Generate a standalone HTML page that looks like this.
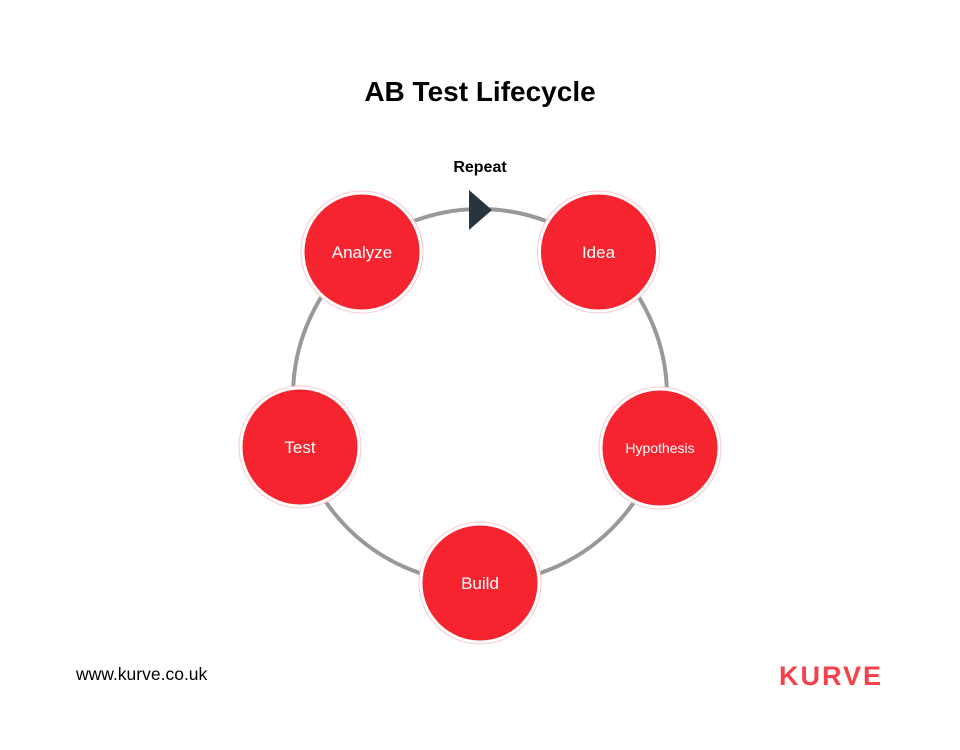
<!DOCTYPE html>
<html><head><style>
body{margin:0;background:#fff;}
svg{display:block;font-family:"Liberation Sans",sans-serif;}
</style></head><body>
<svg width="960" height="750" viewBox="0 0 960 750">
<rect width="960" height="750" fill="#fff"/>
<text x="480" y="101" text-anchor="middle" font-size="28" font-weight="bold" fill="#000">AB Test Lifecycle</text>
<text x="480" y="172" text-anchor="middle" font-size="16" font-weight="bold" fill="#000">Repeat</text>
<circle cx="480" cy="396" r="187" fill="none" stroke="#999" stroke-width="4"/>
<polygon points="469,190 492,210 469,230" fill="#263540"/>
<g fill="#f5242f" stroke="#fff" stroke-width="3">
<circle cx="598.5" cy="252" r="59"/>
<circle cx="660" cy="448" r="59"/>
<circle cx="480" cy="583" r="59"/>
<circle cx="300" cy="447" r="59"/>
<circle cx="362" cy="252" r="59"/>
</g>
<g fill="none" stroke="#fbc8cc" stroke-width="1">
<circle cx="598.5" cy="252" r="61"/>
<circle cx="660" cy="448" r="61"/>
<circle cx="480" cy="583" r="61"/>
<circle cx="300" cy="447" r="61"/>
<circle cx="362" cy="252" r="61"/>
</g>
<g fill="#fff" text-anchor="middle" font-size="17">
<text x="598.5" y="258">Idea</text>
<text x="660" y="453" font-size="14">Hypothesis</text>
<text x="480" y="589">Build</text>
<text x="300" y="453">Test</text>
<text x="362" y="258">Analyze</text>
</g>
<text x="76" y="680" font-size="17.5" fill="#000">www.kurve.co.uk</text>
<text x="831" y="685" text-anchor="middle" font-size="27" font-weight="bold" fill="#f5424a" letter-spacing="2">KURVE</text>
</svg>
</body></html>
